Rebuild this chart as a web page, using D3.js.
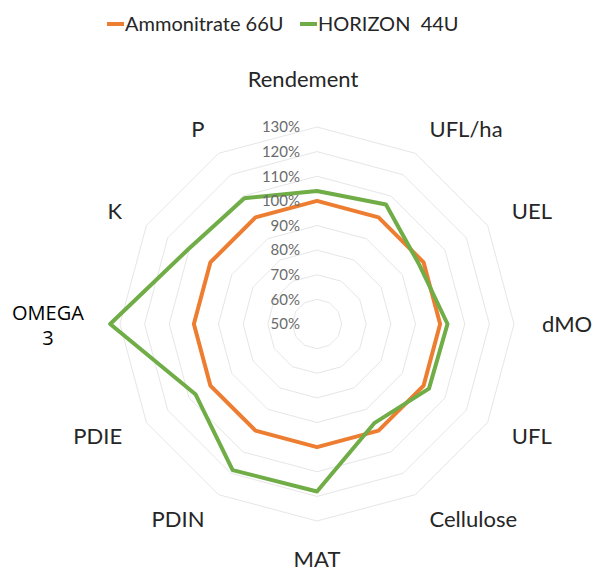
<!DOCTYPE html>
<html lang="fr">
<head>
    <meta charset="UTF-8">
    <title>Radar</title>
    <script src="https://cdn.jsdelivr.net/npm/d3@7"></script>
    <style>
        body { margin: 0; background: #fff; }
        text { font-family: Lato, "Open Sans", sans-serif; }
    </style>
</head>
<body>
<script>
    // data
    var categories = ["Rendement", "UFL/ha", "UEL", "dMO", "UFL", "Cellulose", "MAT", "PDIN", "PDIE", "OMEGA 3", "K", "P"];
    var ammonitrate = [100, 100, 100, 100, 100, 100, 100, 100, 100, 100, 100, 100];
    var horizon = [104, 106, 98, 103, 102.5, 96.5, 118, 118.5, 107, 134, 110.5, 109];
    var ticks = [50, 60, 70, 80, 90, 100, 110, 120, 130];
    var seriesNames = ["Ammonitrate 66U", "HORIZON  44U"];
    var colors = ["#ed7d31", "#70ad47"];

    var width = 600, height = 573;
    var cx = 317, cy = 324;

    var svg = d3.select("body").append("svg")
            .attr("width", width)
            .attr("height", height);

    var r = d3.scaleLinear().domain([50, 130]).range([0, 197]);
    var angle = d3.scaleLinear().domain([0, categories.length]).range([0, 2 * Math.PI]);

    function pt(i, v) {
        var a = angle(i);
        return [cx + r(v) * Math.sin(a), cy - r(v) * Math.cos(a)];
    }

    var g = svg.append("g");

    // grid rings
    g.selectAll("polygon.ring")
            .data(ticks.slice(1))
            .enter().append("polygon")
            .attr("class", "ring")
            .attr("points", function(t) {
                return categories.map(function(c, i) { return pt(i, t).join(","); }).join(" ");
            })
            .attr("fill", "none")
            .attr("stroke", "#e6e6e6")
            .attr("stroke-width", 1);

    // series
    var series = [ammonitrate, horizon];
    var line = d3.line().curve(d3.curveLinearClosed);
    g.selectAll("path.series")
            .data(series)
            .enter().append("path")
            .attr("class", "series")
            .attr("d", function(s) { return line(s.map(function(v, i) { return pt(i, v); })); })
            .attr("fill", "none")
            .attr("stroke", function(s, i) { return colors[i]; })
            .attr("stroke-width", 4)
            .attr("stroke-linejoin", "round");

    // tick labels
    g.selectAll("text.tick")
            .data(ticks)
            .enter().append("text")
            .attr("class", "tick")
            .attr("x", cx - 17)
            .attr("y", function(t) { return cy - r(t); })
            .attr("dy", "0.35em")
            .attr("text-anchor", "end")
            .attr("fill", "#6b6b6b")
            .style("font-size", "15px")
            .text(function(t) { return t + "%"; });

    // category labels
    var labR = 225;
    g.selectAll("text.cat")
            .data(categories.filter(function(c) { return c !== "OMEGA 3"; }))
            .enter().append("text")
            .attr("class", "cat")
            .attr("fill", "#262626")
            .style("font-size", "22px")
            .attr("text-anchor", function(c) {
                var s = Math.sin(angle(categories.indexOf(c)));
                return Math.abs(s) < 0.01 ? "middle" : (s > 0 ? "start" : "end");
            })
            .attr("x", function(c) {
                var i = categories.indexOf(c);
                var x = cx + labR * Math.sin(angle(i));
                if (i === 0) x -= 14;
                return x;
            })
            .attr("y", function(c) {
                var a = angle(categories.indexOf(c));
                var y = cy - labR * Math.cos(a);
                if (Math.cos(a) > 0.99) y -= 20;
                if (Math.cos(a) < -0.99) y += 10;
                return y;
            })
            .attr("dy", "0.35em")
            .text(function(c) { return c; });

    // OMEGA 3 label, in two lines
    var om = g.append("text")
            .attr("text-anchor", "middle")
            .attr("fill", "#000")
            .style("font-family", "'Open Sans', 'Noto Sans', sans-serif")
            .style("font-size", "20px");
    var omParts = categories[9].split(" ");
    om.selectAll("tspan")
            .data(omParts)
            .enter().append("tspan")
            .attr("x", 48)
            .attr("y", function(d, i) { return cy - 4 + i * 25; })
            .text(function(d) { return d; });

    // legend
    var legend = svg.append("g").attr("transform", "translate(107,24)");
    var lx = [0, 193];
    var items = legend.selectAll("g.item")
            .data(seriesNames)
            .enter().append("g")
            .attr("class", "item")
            .attr("transform", function(d, i) { return "translate(" + lx[i] + ",0)"; });
    items.append("line")
            .attr("x1", 0).attr("x2", 17)
            .attr("y1", 0).attr("y2", 0)
            .attr("stroke", function(d, i) { return colors[i]; })
            .attr("stroke-width", 4);
    items.append("text")
            .attr("x", 18)
            .attr("dy", "0.35em")
            .attr("fill", "#262626")
            .style("font-size", "20px")
            .style("white-space", "pre")
            .attr("xml:space", "preserve")
            .text(function(d) { return d; });
</script>
</body>
</html>
